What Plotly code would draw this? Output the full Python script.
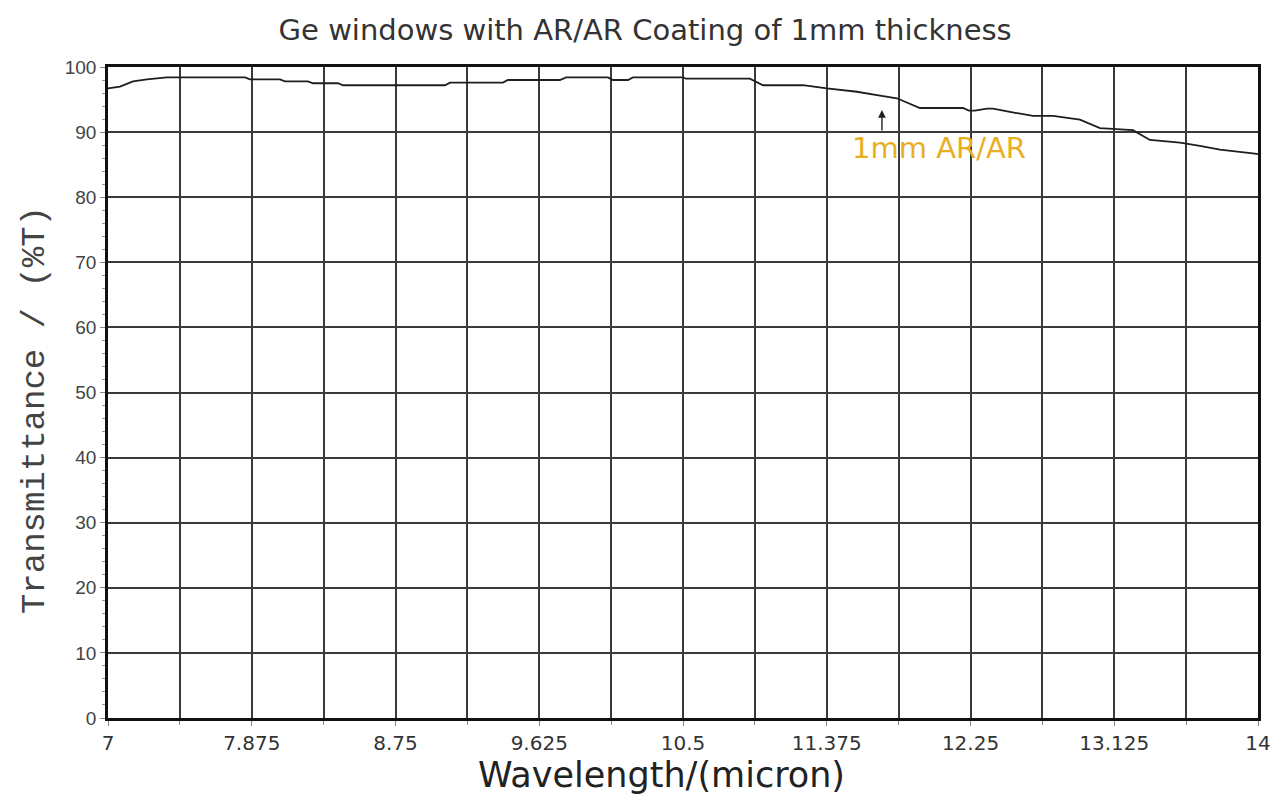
import plotly.graph_objects as go

# Measured transmittance of a 1 mm Ge window, AR coated on both faces
wavelength_um = [
    7.00, 7.024, 7.073, 7.152, 7.237, 7.359, 7.834, 7.864, 8.047, 8.077,
    8.217, 8.248, 8.400, 8.430, 9.051, 9.082, 9.404, 9.434, 9.751, 9.788,
    10.043, 10.074, 10.165, 10.195, 10.500, 10.518, 10.907, 10.987, 11.230,
    11.376, 11.559, 11.699, 11.802, 11.942, 12.204, 12.240, 12.277, 12.350,
    12.387, 12.490, 12.630, 12.752, 12.916, 13.038, 13.239, 13.342, 13.525,
    13.646, 13.768, 13.981, 14.00,
]
transmittance_pct = [
    96.7, 96.8, 97.0, 97.8, 98.1, 98.4, 98.4, 98.1, 98.1, 97.8,
    97.8, 97.5, 97.5, 97.2, 97.2, 97.6, 97.6, 98.0, 98.0, 98.4,
    98.4, 98.0, 98.0, 98.4, 98.4, 98.2, 98.2, 97.2, 97.2,
    96.7, 96.2, 95.6, 95.2, 93.7, 93.7, 93.3, 93.3, 93.6,
    93.6, 93.1, 92.5, 92.5, 91.9, 90.6, 90.3, 88.8, 88.4,
    87.9, 87.3, 86.7, 86.6,
]

x_tick_vals = [7, 7.875, 8.75, 9.625, 10.5, 11.375, 12.25, 13.125, 14]
x_tick_text = ["7", "7.875", "8.75", "9.625", "10.5", "11.375", "12.25", "13.125", "14"]
y_tick_vals = [0, 10, 20, 30, 40, 50, 60, 70, 80, 90, 100]

label_text = "1mm AR/AR"
arrow_tip = (11.711, 93.4)
label_pos = (11.517, 87.6)

grid_color = "#3a3a3a"

fig = go.Figure()
fig.add_trace(go.Scatter(
    x=wavelength_um, y=transmittance_pct, mode="lines",
    line=dict(color="#1e1e1e", width=1.8),
    showlegend=False, hoverinfo="skip",
))

# Arrow pointing at the curve and its label
fig.add_annotation(
    x=arrow_tip[0], y=arrow_tip[1], xref="x", yref="y",
    ax=0, ay=22, showarrow=True, arrowhead=2, arrowsize=1.1,
    arrowwidth=1.4, arrowcolor="#222222", text="",
)
fig.add_annotation(
    x=label_pos[0], y=label_pos[1], xref="x", yref="y",
    xanchor="left", yanchor="middle", showarrow=False,
    text=label_text,
    font=dict(family="DejaVu Sans", size=29, color="#E9AE1F"),
)

# Axis titles
fig.add_annotation(
    x=0.481, y=-0.088, xref="paper", yref="paper",
    xanchor="center", yanchor="middle", showarrow=False,
    text="Wavelength/(micron)",
    font=dict(family="DejaVu Sans", size=35, color="#222222"),
)
fig.add_annotation(
    x=-0.0635, y=0.473, xref="paper", yref="paper",
    xanchor="center", yanchor="middle", showarrow=False, textangle=-90,
    text="Transmittance / (%T)",
    font=dict(family="Liberation Mono", size=34, color="#444444"),
)

fig.update_layout(
    width=1270, height=798,
    margin=dict(l=108, r=12, t=67, b=80),
    paper_bgcolor="white", plot_bgcolor="white",
    title=dict(
        text="Ge windows with AR/AR Coating of 1mm thickness",
        x=0.508, xanchor="center", y=0.963, yanchor="middle",
        font=dict(family="DejaVu Sans", size=29, color="#333333"),
    ),
    xaxis=dict(
        range=[7, 14], tickmode="array", tickvals=x_tick_vals, ticktext=x_tick_text,
        automargin=False, ticklabeloverflow="allow",
        showgrid=True, gridcolor=grid_color, gridwidth=2,
        minor=dict(dtick=0.4375, tick0=7, showgrid=True, gridcolor=grid_color,
                   gridwidth=2, ticks="outside", ticklen=4, tickcolor="#888888"),
        showline=True, linecolor="#111111", linewidth=2.5, mirror=True,
        ticks="outside", ticklen=5, tickcolor="#888888",
        tickfont=dict(family="DejaVu Sans", size=20, color="#333333"),
        zeroline=False,
    ),
    yaxis=dict(
        range=[0, 100], tickmode="array", tickvals=y_tick_vals,
        automargin=False, ticklabeloverflow="allow",
        showgrid=True, gridcolor=grid_color, gridwidth=2,
        minor=dict(dtick=2, ticks="outside", ticklen=3, tickcolor="#999999", showgrid=False),
        showline=True, linecolor="#111111", linewidth=2.5, mirror=True,
        ticks="outside", ticklen=5, tickcolor="#888888",
        tickfont=dict(family="Liberation Sans Narrow, Liberation Sans", size=19, color="#444444"),
        zeroline=False,
    ),
)

fig.write_html("out.html")
